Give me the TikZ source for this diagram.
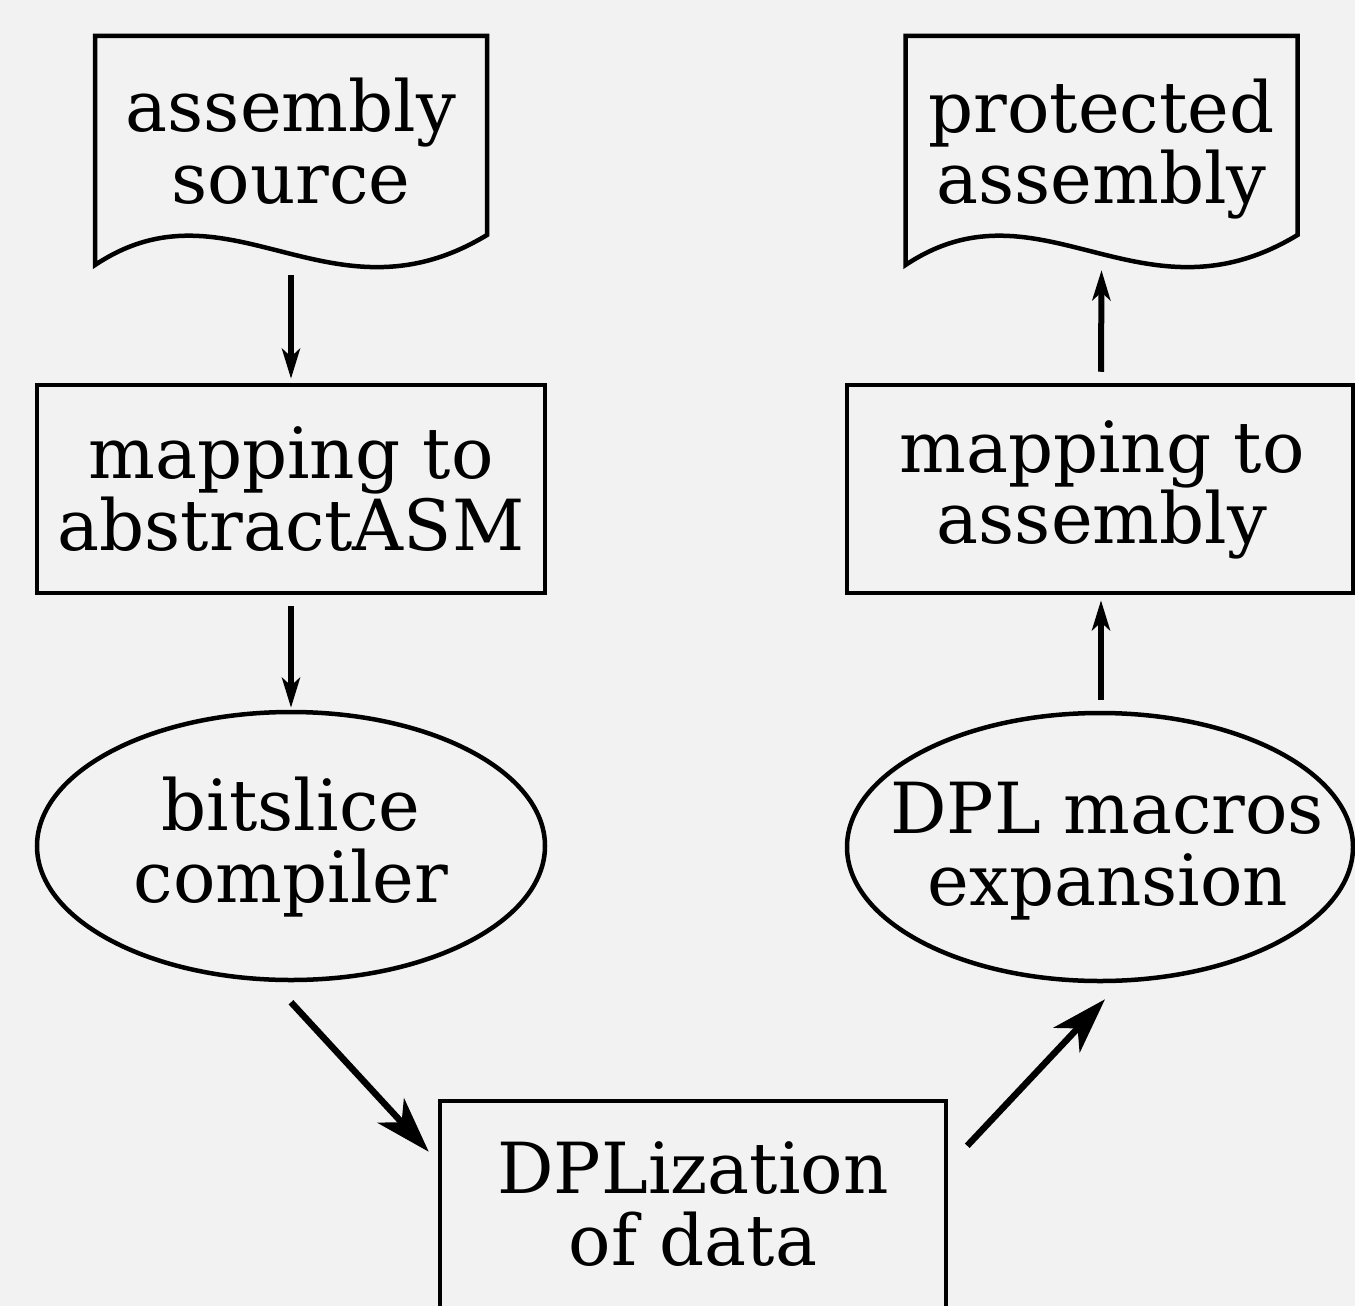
\documentclass[tikz,border=0pt]{standalone}
\usepackage{fontspec}
\setmainfont{DejaVu Serif}
\usetikzlibrary{shapes.geometric,arrows.meta,calc}
\definecolor{paper}{HTML}{F2F2F2}
\tikzset{
  border/.style={line width=4.5pt, draw=black},
  docbox/.style={rectangle, draw=none, inner sep=0pt, minimum width=392pt, minimum height=229pt},
  procbox/.style={rectangle, border, inner sep=0pt, minimum width=508pt, minimum height=208pt},
  stagebox/.style={ellipse, border, inner sep=0pt, minimum width=508pt, minimum height=268pt},
  lbl/.style={anchor=base, inner sep=0pt, font=\fontsize{70.5}{72}\selectfont},
  flow/.style={line width=6pt, -{Stealth[length=30pt,width=18pt,inset=8pt]}},
  bigflow/.style={line width=6.5pt, -{Stealth[length=56pt,width=36pt,inset=16pt]}},
}
% outline of a document symbol with a wavy bottom edge, around a docbox node
\newcommand{\docoutline}[1]{%
  \draw[border, line join=miter, shift={(#1.center)}]
    (-196,114.5) -- (-196,-114.5) -- (196,-114.5) -- (196,84.5)
    .. controls (39,179.5) and (-61,24.5) .. (-196,114.5) -- cycle;}
\begin{document}
\begin{tikzpicture}[x=1pt, y=-1pt]
  \fill[paper] (0,0) rectangle (1355,1306);
  \useasboundingbox (0,0) rectangle (1355,1306);

  % left column
  \node[docbox] (src) at (291,150.5) {};
  \docoutline{src}
  \node[lbl] (src1) at (291,131) {assembly};
  \node[lbl] (src2) at (291,203) {source};

  \node[procbox] (absm) at (291,489) {};
  \node[lbl] (absm1) at (291,478) {mapping to};
  \node[lbl] (absm2) at (291,550) {abstractASM};

  \node[stagebox] (bits) at (291,846) {};
  \node[lbl] (bits1) at (291,830) {bitslice};
  \node[lbl] (bits2) at (291,902) {compiler};

  % bottom
  \node[procbox, minimum width=506pt] (dpliz) at (693,1205) {};
  \node[lbl] (dpliz1) at (693,1193) {DPLization};
  \node[lbl] (dpliz2) at (693,1265) {of data};

  % right column
  \node[stagebox, minimum width=506pt] (dplm) at (1100,847) {};
  \node[lbl] (dplm1) at (1107,833) {DPL macros};
  \node[lbl] (dplm2) at (1108,905) {expansion};

  \node[procbox, minimum width=506pt] (masm) at (1100,489) {};
  \node[lbl] (masm1) at (1102,472) {mapping to};
  \node[lbl] (masm2) at (1102,543) {assembly};

  \node[docbox] (prot) at (1101.5,150.5) {};
  \docoutline{prot}
  \node[lbl] (prot1) at (1101.5,132) {protected};
  \node[lbl] (prot2) at (1101.5,203) {assembly};

  % connectors
  \draw[flow] ($(src.south)+(0,10)$) -- ($(absm.north)+(0,-4)$);
  \draw[flow] ($(absm.south)+(0,11)$) -- ($(bits.north)+(0,-2)$);
  \draw[bigflow] ($(bits.south)+(0,20)$) -- ($(dpliz.north west)+(-9,53)$);
  \draw[bigflow] ($(dpliz.north east)+(19,47)$) -- ($(dplm.south)+(5,16)$);
  \draw[flow] ($(dplm.north)+(1,-11)$) -- ($(masm.south)+(1,5)$);
  \draw[flow] ($(masm.north)+(1,-11)$) -- ($(prot.south)+(0,5)$);
\end{tikzpicture}
\end{document}
